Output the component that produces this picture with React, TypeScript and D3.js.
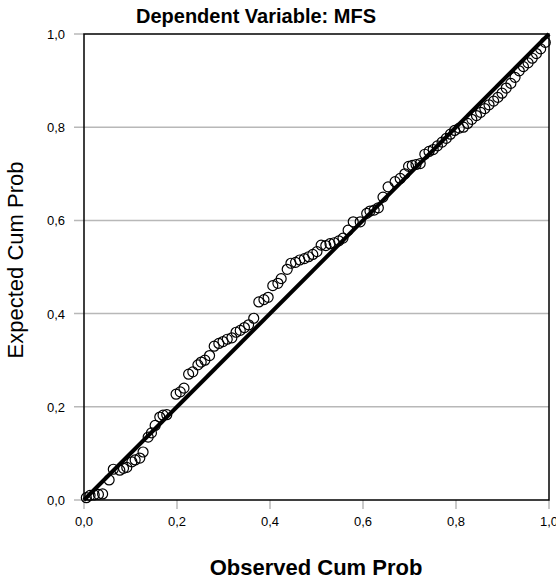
import React from "react";
import * as d3 from "d3";

const observedCumProb = [
  0.005, 0.013, 0.022, 0.031, 0.040, 0.054, 0.063, 0.077, 0.085, 0.092,
  0.103, 0.110, 0.120, 0.127, 0.138, 0.145, 0.153, 0.163, 0.170, 0.178,
  0.198, 0.207, 0.215, 0.225, 0.234, 0.245, 0.252, 0.260, 0.270, 0.280,
  0.290, 0.299, 0.308, 0.318, 0.327, 0.336, 0.345, 0.354, 0.365, 0.376,
  0.387, 0.396, 0.406, 0.417, 0.424, 0.437, 0.445, 0.455, 0.464, 0.474,
  0.483, 0.492, 0.501, 0.510, 0.520, 0.529, 0.538, 0.548, 0.557, 0.568,
  0.579, 0.594, 0.608, 0.615, 0.624, 0.633, 0.643, 0.654, 0.669, 0.680,
  0.690, 0.698, 0.706, 0.714, 0.723, 0.733, 0.742, 0.751,
  0.760, 0.770, 0.779, 0.788, 0.797, 0.807, 0.816, 0.825, 0.834, 0.844,
  0.853, 0.862, 0.871, 0.881, 0.890, 0.899, 0.908, 0.918, 0.927, 0.936,
  0.945, 0.955, 0.964, 0.973, 0.982, 0.992,
];

const expectedCumProb = [
  0.005, 0.010, 0.011, 0.012, 0.013, 0.043, 0.066, 0.064, 0.068, 0.070,
  0.082, 0.086, 0.090, 0.103, 0.135, 0.144, 0.160, 0.178, 0.182, 0.183,
  0.227, 0.232, 0.240, 0.270, 0.275, 0.290, 0.296, 0.300, 0.310, 0.330,
  0.336, 0.340, 0.345, 0.348, 0.360, 0.364, 0.370, 0.376, 0.390, 0.425,
  0.430, 0.435, 0.460, 0.465, 0.475, 0.495, 0.508, 0.510, 0.515, 0.518,
  0.522, 0.527, 0.533, 0.547, 0.546, 0.550, 0.552, 0.556, 0.562, 0.579,
  0.597, 0.597, 0.615, 0.620, 0.622, 0.627, 0.650, 0.672, 0.683, 0.690,
  0.700, 0.716, 0.718, 0.720, 0.722, 0.742, 0.748,
  0.752, 0.760, 0.768, 0.776, 0.785, 0.793, 0.798, 0.800, 0.808, 0.817, 0.825,
  0.832, 0.840, 0.848, 0.856, 0.864, 0.873, 0.884, 0.894, 0.907, 0.921,
  0.930, 0.938, 0.948, 0.958, 0.968, 0.982,
];

const tickValues = [0, 0.2, 0.4, 0.6, 0.8, 1.0];
const tickLabels = ["0,0", "0,2", "0,4", "0,6", "0,8", "1,0"];
const titleText = "Dependent Variable: MFS";
const xAxisTitle = "Observed Cum Prob";
const yAxisTitle = "Expected Cum Prob";

export default function App() {
  const W = 556;
  const H = 579;
  const left = 84;
  const right = 549;
  const top = 34;
  const bottom = 500;
  const x = d3.scaleLinear().domain([0, 1]).range([left, right]);
  const y = d3.scaleLinear().domain([0, 1]).range([bottom, top]);
  const font = "'Liberation Sans', Arial, Helvetica, sans-serif";
  const n = Math.min(observedCumProb.length, expectedCumProb.length);
  const points = observedCumProb.slice(0, n).map((o, i) => [o, expectedCumProb[i]]);
  const diag = d3.line<number>().x((d) => x(d)).y((d) => y(d))([0, 1]) || "";

  return (
    <svg
      width={W}
      height={H}
      style={{ position: "absolute", left: 0, top: 0, background: "#fff" }}
      fontFamily={font}
    >
      <rect x={0} y={0} width={W} height={H} fill="#fff" />
      {tickValues.map((t) => (
        <line
          key={"g" + t}
          x1={left - 10}
          x2={t === 0 || t === 1 ? left : right}
          y1={y(t)}
          y2={y(t)}
          stroke="#b8b8b8"
          strokeWidth={1.5}
        />
      ))}
      {tickValues.map((t) => (
        <line
          key={"xt" + t}
          x1={x(t)}
          x2={x(t)}
          y1={bottom}
          y2={bottom + 9}
          stroke="#b8b8b8"
          strokeWidth={1.5}
        />
      ))}
      <rect
        x={left}
        y={top}
        width={right - left}
        height={bottom - top}
        fill="none"
        stroke="#000"
        strokeWidth={1.5}
      />
      {points.map(([o, e], i) => (
        <circle
          key={i}
          cx={x(o)}
          cy={y(e)}
          r={5}
          fill="none"
          stroke="#000"
          strokeWidth={1.2}
        />
      ))}
      <path d={diag} stroke="#000" strokeWidth={4} fill="none" />
      {tickValues.map((t, i) => (
        <text
          key={"xl" + t}
          x={x(t)}
          y={526}
          textAnchor="middle"
          fontSize={13}
          fill="#000"
        >
          {tickLabels[i]}
        </text>
      ))}
      {tickValues.map((t, i) => (
        <text
          key={"yl" + t}
          x={65}
          y={y(t) + 5}
          textAnchor="end"
          fontSize={13}
          fill="#000"
        >
          {tickLabels[i]}
        </text>
      ))}
      <text x={256} y={23} textAnchor="middle" fontSize={20} fontWeight="bold">
        {titleText}
      </text>
      <text x={316} y={575} textAnchor="middle" fontSize={22} fontWeight="bold">
        {xAxisTitle}
      </text>
      <text
        transform={`translate(23, 260) rotate(-90)`}
        textAnchor="middle"
        fontSize={22}
      >
        {yAxisTitle}
      </text>
    </svg>
  );
}
